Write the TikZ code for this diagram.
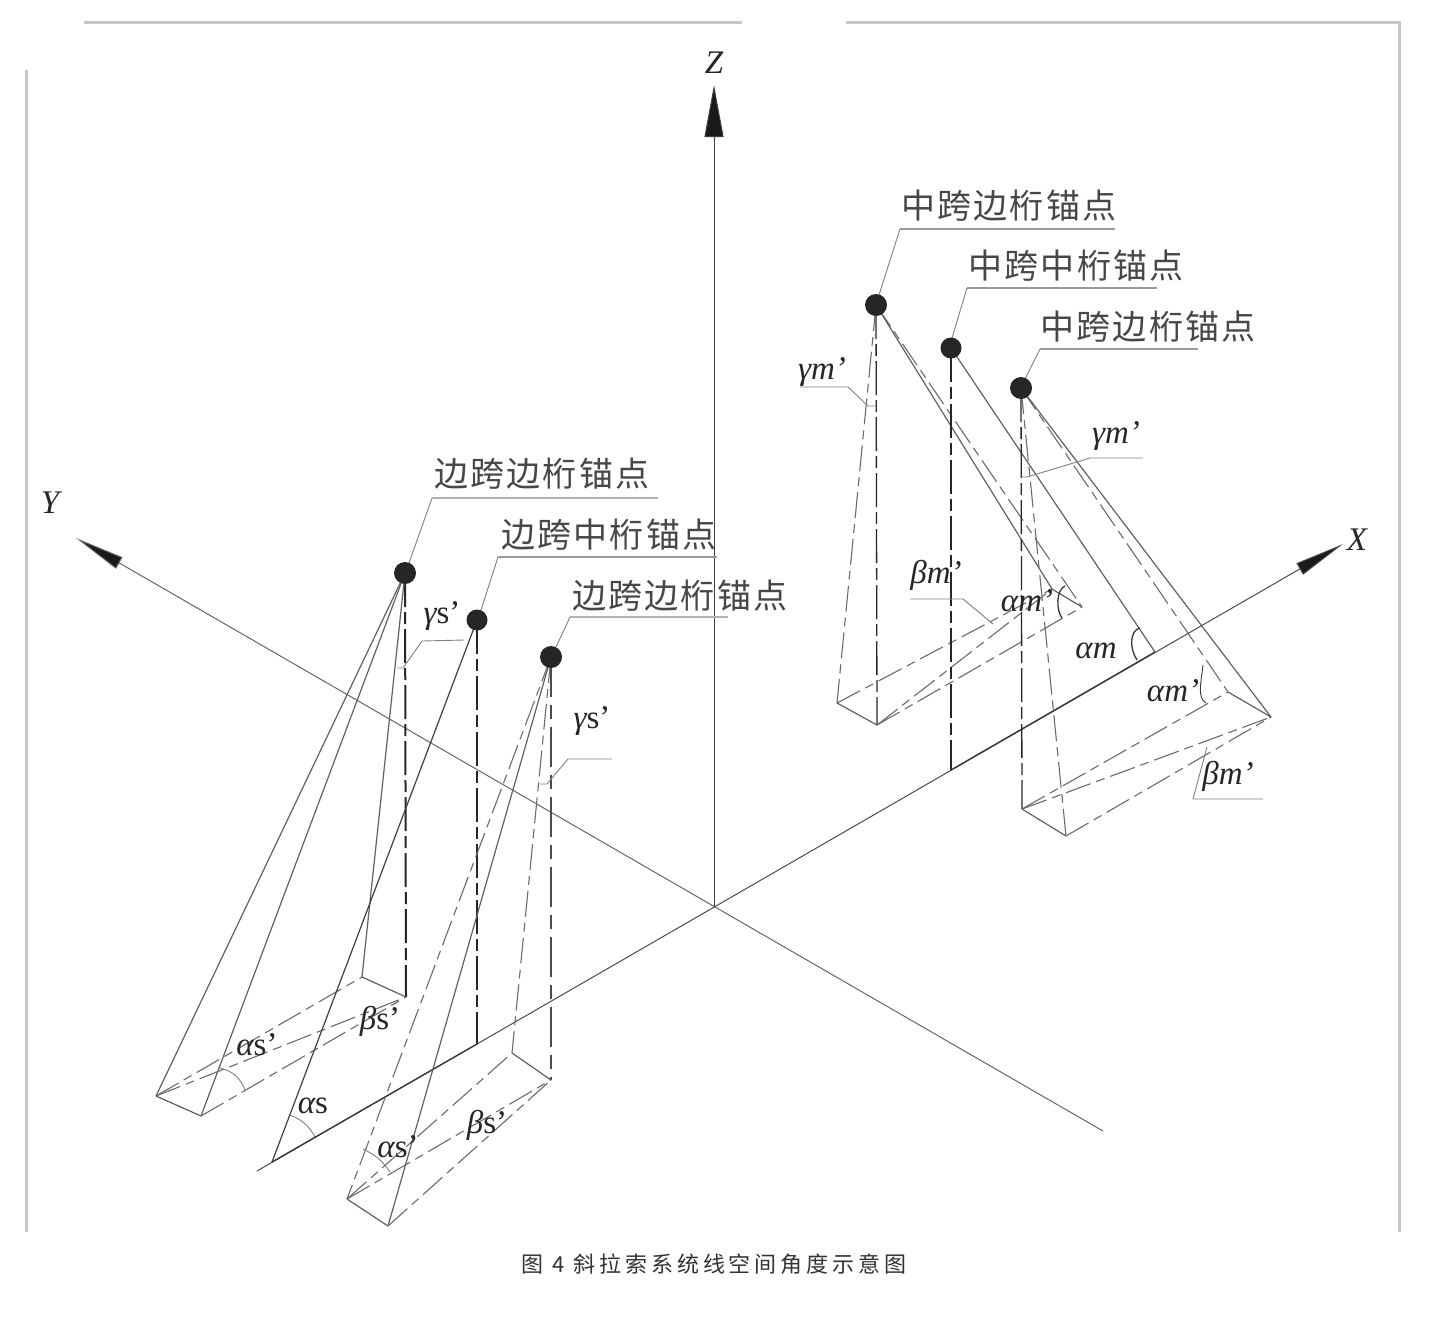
\documentclass[tikz,border=0pt]{standalone}
\usepackage{fontspec}
\usetikzlibrary{arrows.meta}
\setmainfont{Liberation Serif}
\newfontfamily\cjklab[LetterSpace=6]{Noto Sans CJK SC}
\newfontfamily\cjkcap[LetterSpace=18]{Noto Sans CJK SC}
\tikzset{
  solidline/.style={draw=black!62,line width=1.2pt},
  darkline/.style={draw=black!78,line width=1.3pt},
  dashline/.style={draw=black!58,line width=1.1pt,dash pattern=on 26pt off 6pt on 9pt off 6pt},
  vertline/.style={draw=black!85,line width=1.3pt,dash pattern=on 34pt off 5pt on 12pt off 5pt},
  leader/.style={draw=black!50,line width=0.9pt},
  under/.style={draw=black!40,line width=1.3pt},
  framebar/.style={draw=black!22,line width=3pt},
  ball/.style={circle,fill=black!85,minimum size=22pt,inner sep=0pt},
  cjktext/.style={text=black!72,font=\cjklab\fontsize{34}{34}\selectfont,inner sep=0pt},
  sym/.style={text=black!85,font=\fontsize{33}{33}\selectfont,inner sep=0pt},
  axislabel/.style={text=black!85,font=\itshape\fontsize{33}{33}\selectfont,inner sep=0pt},
  axistip/.style n args={2}{-{Triangle[length=#1,width=#2,fill=black!90]},draw=black!70,line width=1pt}
}
\begin{document}
\begin{tikzpicture}[x=1pt,y=-1pt]
\useasboundingbox[fill=white] (0,0) rectangle (1434,1320);
% frame
\coordinate (F1) at (84,22); \coordinate (F2) at (742,22);
\coordinate (F3) at (846,22); \coordinate (F4) at (1399,22);
\coordinate (F5) at (1399,1232); \coordinate (F6) at (26,70); \coordinate (F7) at (26,1232);
\draw[framebar] (F1) -- (F2);
\draw[framebar] (F3) -- (F4) -- (F5);
\draw[framebar] (F6) -- (F7);
% axes
\coordinate (O) at (714,907);
\coordinate (Zt) at (714,85); \coordinate (Yt) at (76,538); \coordinate (Xt) at (1343,544);
\coordinate (Ye) at (1103,1131); \coordinate (Xe) at (257,1171);
\draw[axistip={52pt}{19pt},draw=black!75] (O) -- (Zt);
\draw[axistip={50pt}{13pt},draw=black!60] (Ye) -- (Yt);
\draw[axistip={50pt}{13pt},draw=black!70] (Xe) -- (Xt);
% left group
\coordinate (A1) at (405,573); \coordinate (A1b) at (406,997);
\coordinate (A1p) at (362,977); \coordinate (A1q) at (156,1096); \coordinate (A1r) at (201,1116);
\draw[vertline,line width=2pt] (A1) -- (A1b);
\draw[solidline] (A1) -- (A1q);
\draw[solidline] (A1) -- (A1r);
\draw[solidline] (A1) -- (A1p);
\draw[solidline] (A1q) -- (A1r);
\draw[solidline] (A1p) -- (A1b);
\draw[dashline] (A1q) -- (A1p);
\draw[dashline] (A1r) -- (A1b);
\draw[dashline] (A1q) -- (A1b);
\coordinate (A1a1) at (220,1068); \coordinate (A1a2) at (245,1090);
\draw[leader] (A1a1) to[bend left=28] (A1a2);
\coordinate (A2) at (477,620); \coordinate (A2b) at (477,1044); \coordinate (A2q) at (272,1162);
\draw[vertline] (A2) -- (A2b);
\draw[solidline,draw=black!75] (A2) -- (A2q);
\coordinate (A2a1) at (290,1115); \coordinate (A2a2) at (315,1137);
\draw[leader] (A2a1) to[bend left=20] (A2a2);
\draw[darkline] (A2q) -- (A2b);
\coordinate (A3) at (551,657); \coordinate (A3b) at (551,1080);
\coordinate (A3p) at (512,1053); \coordinate (A3q) at (347,1199); \coordinate (A3r) at (388,1226);
\draw[vertline,dash pattern=on 40pt off 8pt on 14pt off 8pt,draw=black!70] (A3) -- (A3b);
\draw[solidline] (A3) -- (A3r);
\draw[dashline] (A3) -- (A3q);
\draw[dashline] (A3) -- (A3p);
\draw[solidline] (A3q) -- (A3r);
\draw[solidline] (A3p) -- (A3b);
\draw[dashline] (A3q) -- (A3p);
\draw[dashline] (A3r) -- (A3b);
\draw[dashline] (A3q) -- (A3b);
\coordinate (A3a1) at (363,1149); \coordinate (A3a2) at (390,1172);
\draw[leader] (A3a1) to[bend left=15] (A3a2);
% right group
\coordinate (B1) at (876,305); \coordinate (B1b) at (877,725);
\coordinate (B1p) at (1052,589); \coordinate (B1q) at (837,703); \coordinate (B1r) at (1082,607);
\draw[vertline] (B1) -- (B1b);
\draw[solidline] (B1) -- (B1p);
\draw[dashline] (B1) -- (B1q);
\draw[dashline] (B1) -- (B1r);
\draw[solidline] (B1q) -- (B1b);
\draw[solidline] (B1p) -- (B1r);
\draw[dashline] (B1q) -- (B1p);
\draw[dashline] (B1b) -- (B1r);
\draw[dashline] (B1b) -- (B1p);
\coordinate (B2) at (951,348); \coordinate (B2b) at (951,770); \coordinate (B2q) at (1155,652);
\draw[vertline] (B2) -- (B2b);
\draw[solidline] (B2) -- (B2q);
\draw[darkline] (B2b) -- (B2q);
\coordinate (B3) at (1021,388); \coordinate (B3b) at (1022,809);
\coordinate (B3p) at (1228,692); \coordinate (B3q) at (1066,836); \coordinate (B3r) at (1271,717);
\draw[vertline] (B3) -- (B3b);
\draw[solidline] (B3) -- (B3r);
\draw[dashline] (B3) -- (B3p);
\draw[dashline] (B3) -- (B3q);
\draw[solidline] (B3b) -- (B3q);
\draw[solidline] (B3p) -- (B3r);
\draw[dashline] (B3b) -- (B3p);
\draw[dashline] (B3q) -- (B3r);
\draw[dashline] (B3b) -- (B3r);
% angle marks
\coordinate (m1) at (1140,628); \coordinate (m2) at (1130,630); \coordinate (m3) at (1129,648); \coordinate (m4) at (1137,660);
\draw[darkline] (m1) .. controls (m2) and (m3) .. (m4);
\coordinate (n1) at (1065,586); \coordinate (n2) at (1056,590); \coordinate (n3) at (1056,610); \coordinate (n4) at (1062,618);
\draw[darkline] (n1) .. controls (n2) and (n3) .. (n4);
\coordinate (k1) at (1203,665); \coordinate (k2) at (1201,683); \coordinate (k3) at (1197,698); \coordinate (k4) at (1206,703);
\draw[darkline,line width=0.9pt] (k1) .. controls (k2) and (k3) .. (k4);
% leaders
\coordinate (L1) at (1115,229); \coordinate (L2) at (900,229); \coordinate (L3) at (879,295);
\draw[under] (L1) -- (L2); \draw[leader] (L2) -- (L3);
\coordinate (L4) at (1157,288); \coordinate (L5) at (967,288); \coordinate (L6) at (952,338);
\draw[under] (L4) -- (L5); \draw[leader] (L5) -- (L6);
\coordinate (L7) at (1198,349); \coordinate (L8) at (1040,349); \coordinate (L9) at (1025,379);
\draw[under] (L7) -- (L8); \draw[leader] (L8) -- (L9);
\coordinate (L10) at (658,498); \coordinate (L11) at (432,498); \coordinate (L12) at (409,563);
\draw[under,draw=black!30,line width=2pt] (L10) -- (L11); \draw[leader] (L11) -- (L12);
\coordinate (L13) at (717,557); \coordinate (L14) at (498,557); \coordinate (L15) at (481,610);
\draw[under] (L13) -- (L14); \draw[leader] (L14) -- (L15);
\coordinate (L16) at (728,617); \coordinate (L17) at (570,617); \coordinate (L18) at (556,647);
\draw[under,draw=black!30,line width=2pt] (L16) -- (L17); \draw[leader] (L17) -- (L18);
\coordinate (g1) at (800,387); \coordinate (g2) at (848,387); \coordinate (g3) at (868,406); \coordinate (g4) at (876,406);
\draw[leader] (g1) -- (g2) -- (g3) -- (g4);
\coordinate (g5) at (1143,458); \coordinate (g6) at (1090,458); \coordinate (g7) at (1027,477); \coordinate (g8) at (1021,477);
\draw[leader] (g5) -- (g6) -- (g7) -- (g8);
\coordinate (b1) at (910,599); \coordinate (b2) at (963,599); \coordinate (b3) at (993,624);
\draw[leader] (b1) -- (b2) -- (b3);
\coordinate (b4) at (1263,799); \coordinate (b5) at (1193,799); \coordinate (b6) at (1207,747);
\draw[leader] (b4) -- (b5) -- (b6);
\coordinate (s1) at (464,640); \coordinate (s2) at (422,641); \coordinate (s3) at (403,668); \coordinate (s4) at (397,668);
\draw[leader] (s1) -- (s2) -- (s3) -- (s4);
\coordinate (s5) at (612,759); \coordinate (s6) at (568,759); \coordinate (s7) at (547,784); \coordinate (s8) at (540,784);
\draw[leader] (s5) -- (s6) -- (s7) -- (s8);
% balls
\node[ball] (ballA1) at (A1) {};
\node[ball,minimum size=21pt] (ballA2) at (A2) {};
\node[ball] (ballA3) at (A3) {};
\node[ball] (ballB1) at (B1) {};
\node[ball,minimum size=21pt] (ballB2) at (B2) {};
\node[ball] (ballB3) at (B3) {};
% chinese labels
\node[cjktext] (t1) at (1009,206) {中跨边桁锚点};
\node[cjktext] (t2) at (1076,266) {中跨中桁锚点};
\node[cjktext] (t3) at (1148,327) {中跨边桁锚点};
\node[cjktext] (t4) at (542,474) {边跨边桁锚点};
\node[cjktext] (t5) at (609,535) {边跨中桁锚点};
\node[cjktext] (t6) at (680,596) {边跨边桁锚点};
% axis labels
\node[axislabel] (lx) at (1357,540) {X};
\node[axislabel] (ly) at (50,503) {Y};
\node[axislabel] (lz) at (714,63) {Z};
% symbols
\node[sym] (y1) at (822,372) {\itshape γm’};
\node[sym] (y2) at (1116,436) {\itshape γm’};
\node[sym] (b1t) at (936,575) {\itshape βm’};
\node[sym] (a1) at (1027,601) {\itshape αm’};
\node[sym] (a2) at (1096,651) {\itshape αm};
\node[sym] (a3) at (1173,691) {\itshape αm’};
\node[sym] (b2t) at (1228,776) {\itshape βm’};
\node[sym] (y3) at (442,616) {{\itshape γ}s’};
\node[sym] (y4) at (592,721) {{\itshape γ}s’};
\node[sym] (a4) at (257,1045) {{\itshape α}s’};
\node[sym] (b3t) at (380,1021) {{\itshape β}s’};
\node[sym] (a5) at (313,1106) {{\itshape α}s};
\node[sym] (a6) at (398,1147) {{\itshape α}s’};
\node[sym] (b4t) at (487,1125) {{\itshape β}s’};
% caption
\node[text=black!80,font=\cjkcap\fontsize{22}{22}\selectfont,inner sep=0pt] (cap) at (714,1264) {图 4 斜拉索系统线空间角度示意图};
\end{tikzpicture}
\end{document}
